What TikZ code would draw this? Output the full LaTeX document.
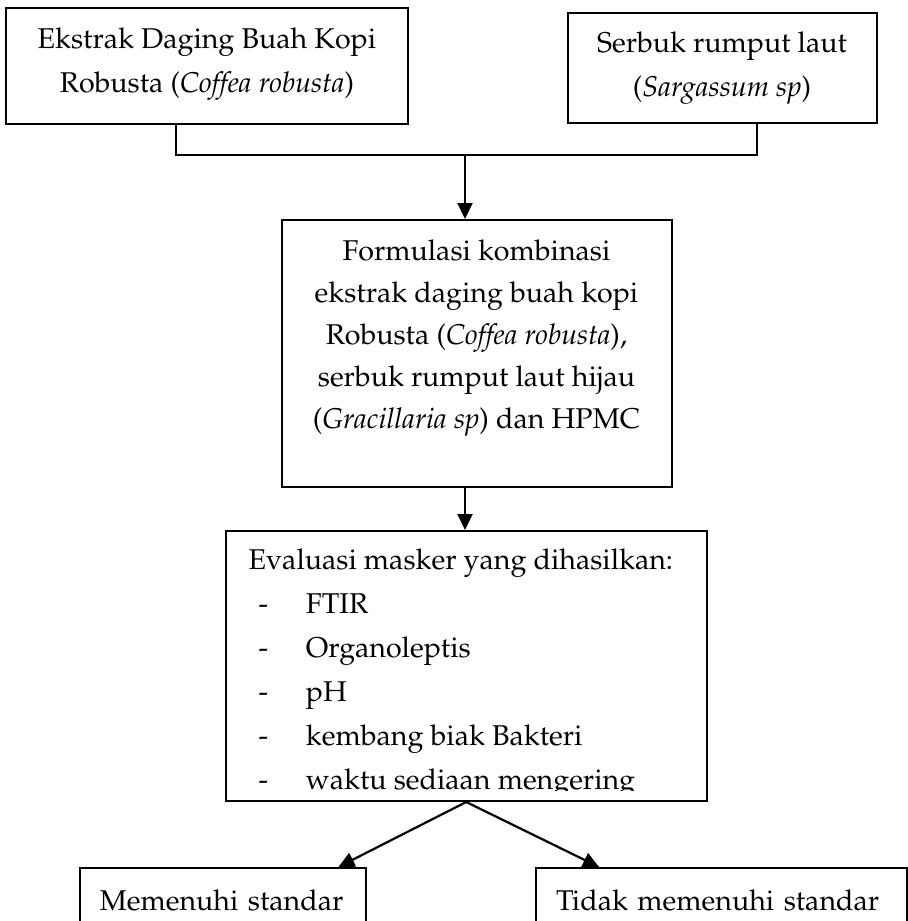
\documentclass[tikz,border=0pt]{standalone}
\usepackage[T1]{fontenc}
\usepackage{mathpazo}
\usetikzlibrary{arrows.meta,calc}
\tikzset{
  kotak/.style={draw, line width=1pt, inner sep=0pt, align=center},
  garis/.style={line width=1pt},
  panah/.style={line width=1.1pt, -{Triangle[length=8pt,width=7.5pt]}}
}
\begin{document}
\begin{tikzpicture}[x=0.5pt,y=-0.5pt,font=\fontsize{14.3}{22}\selectfont]
\useasboundingbox (0,0) rectangle (908,921);

\coordinate (jL) at (176,155);
\coordinate (jM) at (465,155);
\coordinate (jR) at (757,155);

\node[kotak, minimum width=201pt, minimum height=58pt] (ekstrak) at (207,66)
  {Ekstrak Daging Buah Kopi\\Robusta (\textit{Coffea robusta})\rule[-6pt]{0pt}{6pt}};
\node[kotak, minimum width=154.5pt, minimum height=55pt] (serbuk) at (722,67.7)
  {Serbuk rumput laut\\(\textit{Sargassum sp})\rule[-2pt]{0pt}{2pt}};
\node[kotak, minimum width=195pt, minimum height=133.5pt, font=\fontsize{14.3}{21}\selectfont] (formula) at (476.5,353.5)
  {Formulasi kombinasi\\ekstrak daging buah kopi\\Robusta (\textit{Coffea robusta}),\\serbuk rumput laut hijau\\(\textit{Gracillaria sp}) dan HPMC\rule[-19pt]{0pt}{19pt}};
\node[kotak, minimum width=240.5pt, minimum height=135pt] (eval) at (466.2,666) {};
\begin{scope}
  \clip (eval.north west) rectangle ($(eval.south east)+(0,-12)$);
  \node[anchor=base west, inner sep=0pt, align=left] (evalTeks) at ($(eval.north west)+(23.5,259)$)
    {Evaluasi masker yang dihasilkan:\\
     \hspace*{5pt}\makebox[23.7pt][l]{-}FTIR\\
     \hspace*{5pt}\makebox[23.7pt][l]{-}Organoleptis\\
     \hspace*{5pt}\makebox[23.7pt][l]{-}pH\\
     \hspace*{5pt}\makebox[23.7pt][l]{-}kembang biak Bakteri\\
     \hspace*{5pt}\makebox[23.7pt][l]{-}waktu sediaan mengering};
\end{scope}
\node[kotak, anchor=north west, align=left, text width=123.3pt, inner xsep=10pt, minimum height=32pt] (memenuhi) at (78.8,867)
  {Memenuhi standar};
\node[kotak, anchor=north west, align=left, text width=165.5pt, inner xsep=10pt, minimum height=32pt] (tidak) at (535,867)
  {Tidak memenuhi standar};

\draw[garis] (jL |- ekstrak.south) -- (jL) -- (jR) -- (jR |- serbuk.south);
\draw[panah] (jM) -- (jM |- formula.north);
\draw[panah] (jM |- formula.south) -- (jM |- eval.north);
\draw[panah] (eval.south) -- ($(memenuhi.north east)+(-29,0)$);
\draw[panah] (eval.south) -- ($(tidak.north west)+(64,0)$);
\end{tikzpicture}
\end{document}
